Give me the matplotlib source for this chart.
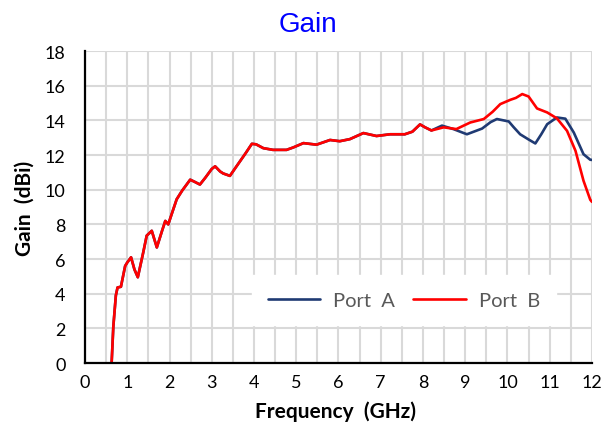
import matplotlib
matplotlib.use("Agg")
import matplotlib.pyplot as plt
from matplotlib.ticker import MultipleLocator

# shared low band (both ports overlap)
freq_common = [0.63, 0.67, 0.73, 0.77, 0.85, 0.95, 1.0, 1.09, 1.17, 1.25, 1.38, 1.46,
               1.58, 1.70, 1.82, 1.90, 1.97, 2.08, 2.17, 2.30, 2.49, 2.60, 2.72, 2.85,
               3.00, 3.08, 3.20, 3.27, 3.43, 3.60, 3.80, 3.95, 4.05, 4.22, 4.45, 4.77,
               4.93, 5.17, 5.48, 5.80, 6.03, 6.27, 6.59, 6.90, 7.22, 7.57, 7.75, 7.93,
               8.05, 8.20]
gain_common = [0.0, 2.1, 3.9, 4.36, 4.4, 5.6, 5.8, 6.1, 5.4, 4.95, 6.4, 7.35,
               7.63, 6.67, 7.6, 8.2, 8.0, 8.8, 9.45, 9.95, 10.58, 10.45, 10.3, 10.7,
               11.2, 11.35, 11.05, 10.94, 10.8, 11.4, 12.1, 12.65, 12.62, 12.4, 12.3, 12.3,
               12.44, 12.69, 12.6, 12.87, 12.8, 12.92, 13.27, 13.1, 13.2, 13.2, 13.35, 13.77,
               13.6, 13.42]

freq_a = [8.45, 8.72, 9.04, 9.4, 9.6, 9.75, 10.03, 10.15, 10.3, 10.5, 10.66, 10.8,
          10.94, 11.17, 11.37, 11.57, 11.8, 11.96, 12.0]
gain_a = [13.7, 13.5, 13.2, 13.53, 13.9, 14.08, 13.94, 13.6, 13.2, 12.9, 12.67, 13.2,
          13.78, 14.17, 14.1, 13.3, 12.05, 11.73, 11.72]

freq_b = [8.49, 8.79, 9.12, 9.44, 9.65, 9.83, 10.07, 10.2, 10.35, 10.5, 10.7, 10.94,
          11.17, 11.41, 11.61, 11.8, 11.96, 12.0]
gain_b = [13.6, 13.5, 13.88, 14.08, 14.5, 14.94, 15.19, 15.3, 15.52, 15.38, 14.69, 14.46,
          14.12, 13.4, 12.25, 10.52, 9.42, 9.3]

fig = plt.figure(figsize=(6.09, 4.27), dpi=100)
ax = fig.add_axes([0.1396, 0.1475, 0.8324, 0.7305])

ax.plot(freq_common + freq_a, gain_common + gain_a, color="#1f3a73", lw=1.9,
        label="Port  A", solid_joinstyle="round", solid_capstyle="round")
ax.plot(freq_common + freq_b, gain_common + gain_b, color="#ff0000", lw=1.9,
        label="Port  B", solid_joinstyle="round", solid_capstyle="round")

ax.set_xlim(0, 12)
ax.set_ylim(0, 18)
ax.xaxis.set_major_locator(MultipleLocator(1))
ax.xaxis.set_minor_locator(MultipleLocator(0.5))
ax.yaxis.set_major_locator(MultipleLocator(2))
ax.grid(True, which="both", axis="x", color="#d9d9d9", lw=1.5)
ax.grid(True, which="major", axis="y", color="#d9d9d9", lw=1.5)
ax.set_axisbelow(True)
ax.tick_params(which="both", length=0, labelsize=13)
ax.tick_params(axis="x", pad=8)
ax.tick_params(axis="y", pad=14)
for s in ["top", "right"]:
    ax.spines[s].set_visible(False)
for s in ["left", "bottom"]:
    ax.spines[s].set_linewidth(1.6)
    ax.spines[s].set_color("black")
for lab in ax.get_xticklabels() + ax.get_yticklabels():
    lab.set_family("Lato")

ax.set_xlabel("Frequency  (GHz)", fontsize=15, fontweight="bold", family="Lato")
ax.set_ylabel("Gain  (dBi)", fontsize=15, fontweight="bold", family="Lato")
ax.xaxis.label.set_va("center")
ax.yaxis.label.set_va("center")
ax.xaxis.set_label_coords(0.495, -0.152)
ax.yaxis.set_label_coords(-0.12, 0.5)

fig.text(0.506, 0.925, "Gain", ha="center", va="baseline", fontsize=20,
         color="#0000ff", family="Liberation Sans")

leg = ax.legend(loc="center", bbox_to_anchor=(0.629, 0.202), ncol=2, frameon=True,
                fancybox=False, edgecolor="white", framealpha=1,
                handlelength=2.6, handletextpad=0.65, columnspacing=0.9, borderpad=0.8,
                prop={"family": "Lato", "size": 14.5})
for t in leg.get_texts():
    t.set_color("#595959")

fig.savefig("out.png", dpi=100)
